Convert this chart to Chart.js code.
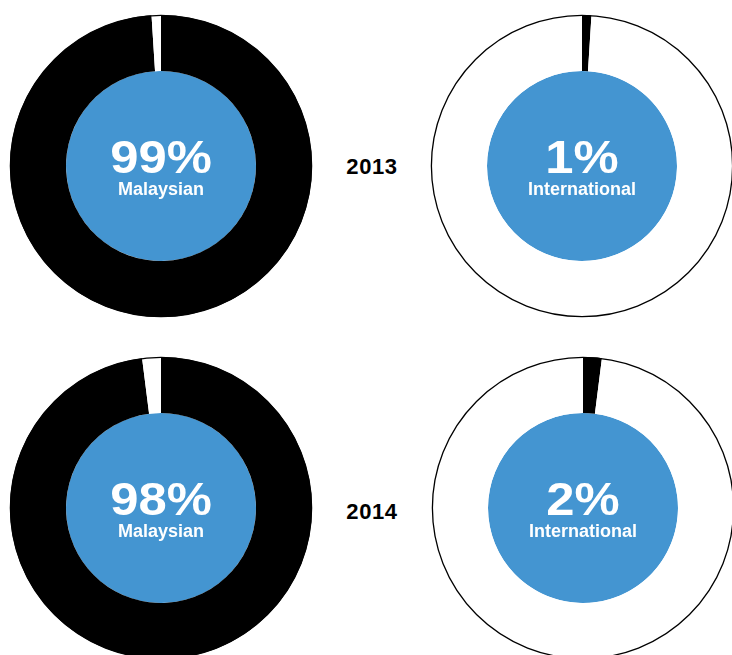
<!DOCTYPE html>
<html>
<head>
<meta charset="utf-8">
<script src="https://cdn.jsdelivr.net/npm/chart.js@4"></script>
<style>
    html, body { margin: 0; padding: 0; background: #fff; }
    body { width: 732px; height: 655px; position: relative; overflow: hidden; font-family: "Liberation Sans", Arial, sans-serif; }
    canvas { position: absolute; }
    .year { position: absolute; width: 80px; text-align: center; font-weight: bold; font-size: 22px; line-height: 22px; letter-spacing: 0.6px; color: #000; }
</style>
</head>
<body>
<canvas id="mal-2013" width="310" height="310" style="left:6px;top:11px"></canvas>
<canvas id="int-2013" width="310" height="310" style="left:427px;top:11px"></canvas>
<canvas id="mal-2014" width="310" height="310" style="left:6px;top:353px"></canvas>
<canvas id="int-2014" width="310" height="310" style="left:428px;top:353px"></canvas>
<div class="year" id="year-0" style="left:332px;top:156px"></div>
<div class="year" id="year-1" style="left:332px;top:501px"></div>
<script>
// data
const years = ["2013", "2014"];
const malaysian = [99, 98];
const international = [1, 2];
const groupLabels = ["Malaysian", "International"];

const blue = "#4495d1";

// text in the middle + thin outline round the ring
const centerText = {
    id: "centerText",
    afterDatasetsDraw(chart, args, opts) {
        const ctx = chart.ctx;
        const arc = chart.getDatasetMeta(0).data[0];
        const cx = arc.x, cy = arc.y;
        ctx.save();
        ctx.beginPath();
        ctx.arc(cx, cy, arc.outerRadius - 0.4, 0, Math.PI * 2);
        ctx.lineWidth = 1.3;
        ctx.strokeStyle = "#000";
        ctx.stroke();

        ctx.fillStyle = "#fff";
        ctx.textAlign = "center";
        ctx.textBaseline = "alphabetic";
        ctx.save();
        ctx.translate(cx, cy + 7);
        ctx.scale(1.08, 1);
        ctx.font = "bold 47px 'Liberation Sans', Arial, sans-serif";
        ctx.fillText(opts.value + "%", 0, 0);
        ctx.restore();
        ctx.font = "bold 18px 'Liberation Sans', Arial, sans-serif";
        ctx.fillText(opts.label, cx, cy + 29);
        ctx.restore();
    }
};

function makeChart(id, ring, value, label) {
    new Chart(document.getElementById(id), {
        type: "doughnut",
        data: {
            labels: ["a", "b"],
            datasets: [{
                data: ring,
                backgroundColor: ["#000", "#fff"],
                borderWidth: 0,
                weight: 56,
            }, {
                data: [100],
                backgroundColor: [blue],
                borderWidth: 0,
                weight: 95,
            }],
        },
        options: {
            responsive: false,
            animation: false,
            cutout: 0,
            layout: { padding: 4 },
            events: [],
            plugins: {
                legend: { display: false },
                tooltip: { enabled: false },
                centerText: { value: value, label: label },
            },
        },
        plugins: [centerText],
    });
}

years.forEach((y, i) => {
    document.getElementById("year-" + i).textContent = y;
    makeChart("mal-" + y, [malaysian[i], international[i]], malaysian[i], groupLabels[0]);
    makeChart("int-" + y, [international[i], malaysian[i]], international[i], groupLabels[1]);
});
</script>
</body>
</html>
